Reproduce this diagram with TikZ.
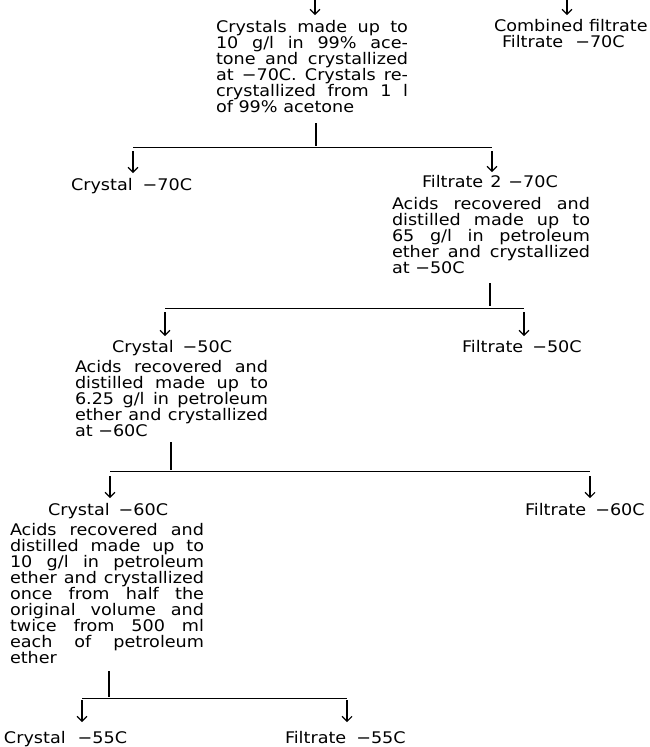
\documentclass[tikz,border=0pt]{standalone}
\usepackage{fontspec}
\setmainfont[FakeStretch=1.1]{DejaVu Sans}
\usetikzlibrary{arrows.meta}
\newcommand\lfont{\fontsize{16}{16.1}\selectfont}
\newcommand\flowtext[2]{\vtop{\hsize=#1\relax\parindent=0pt\tolerance=10000\hbadness=10000\lineskiplimit=-100pt\noindent\ignorespaces #2\par}}
\begin{document}
\begin{tikzpicture}[x=1pt,y=-1pt,
  lab/.style={inner sep=0pt, outer sep=0pt, anchor=base west, font=\lfont},
  hline/.style={line width=0.9pt},
  vline/.style={line width=1.1pt},
  arr/.style={line width=1.1pt, -{Straight Barb[length=5pt,width=10pt]}}]
\fill[white] (0,0) rectangle (649,747);
\useasboundingbox (0,0) rectangle (649,747);

% ---- level 0
\coordinate (in1) at (315,0);
\coordinate (in2) at (567,0);
\node[lab] (b1) at (216,32) {\flowtext{192pt}{Crystals made up to\break 10 g/l in 99\% ace-\break tone and crystallized\break at −70C. Crystals re-\break crystallized from 1 l\break of 99\% acetone}};
\node[lab] (comb1) at (494,31) {Combined filtrate};
\node[lab] (comb2) at (502,47) {Filtrate\hspace{12pt}−70C};
\draw[arr, shorten >=4.8pt] (in1) -- (in1 |- b1.north);
\draw[arr, shorten >=3.8pt] (in2) -- (in2 |- comb1.north);

% ---- split 1
\coordinate (v1) at (316,123);
\coordinate (j1) at (316,146);
\coordinate (h1l) at (133,147);
\coordinate (h1r) at (492,147);
\draw[vline] (v1) -- (j1);
\draw[hline] (h1l) -- (h1r);
\node[lab] (c70) at (71,190) {Crystal\hspace{10pt}−70C};
\node[lab] (f70) at (422,187) {Filtrate\hspace{7pt}2\hspace{7pt}−70C};
\draw[arr, shorten <=4pt, shorten >=4.8pt] (h1l) -- (h1l |- c70.north);
\draw[arr, shorten <=4pt, shorten >=2.8pt] (h1r) -- (h1r |- f70.north);

\node[lab] (b2) at (392,209) {\flowtext{198pt}{Acids recovered and\break distilled made up to\break 65 g/l in petroleum\break ether and crystallized\break at −50C}};

% ---- split 2
\coordinate (v2) at (490,283);
\coordinate (j2) at (490,306);
\coordinate (h2l) at (165,308);
\coordinate (h2r) at (524,308);
\draw[vline] (v2) -- (j2);
\draw[hline] (h2l) -- (h2r);
\node[lab] (c50) at (112,352) {Crystal\hspace{9pt}−50C};
\node[lab] (f50) at (462,352) {Filtrate\hspace{9pt}−50C};
\draw[arr, shorten <=4pt, shorten >=3.8pt] (h2l) -- (h2l |- c50.north);
\draw[arr, shorten <=4pt, shorten >=3.8pt] (h2r) -- (h2r |- f50.north);

\node[lab] (b3) at (75,372) {\flowtext{193pt}{Acids recovered and\break distilled made up to\break 6.25 g/l in petroleum\break ether and crystallized\break at −60C}};

% ---- split 3
\coordinate (v3) at (171,442);
\coordinate (j3) at (171,470);
\coordinate (h3l) at (110,471);
\coordinate (h3r) at (590,471);
\draw[vline] (v3) -- (j3);
\draw[hline] (h3l) -- (h3r);
\node[lab] (c60) at (48,515) {Crystal\hspace{9pt}−60C};
\node[lab] (f60) at (525,515) {Filtrate\hspace{9pt}−60C};
\draw[arr, shorten <=5pt, shorten >=4.8pt] (h3l) -- (h3l |- c60.north);
\draw[arr, shorten <=5pt, shorten >=4.8pt] (h3r) -- (h3r |- f60.north);

\node[lab] (b4) at (10,535) {\flowtext{194pt}{Acids recovered and\break distilled made up to\break 10 g/l in petroleum\break ether and crystallized\break once from half the\break original volume and\break twice from 500 ml\break each of petroleum\break ether}};

% ---- split 4
\coordinate (v4) at (109,671);
\coordinate (j4) at (109,697);
\coordinate (h4l) at (82,698);
\coordinate (h4r) at (347,698);
\draw[vline] (v4) -- (j4);
\draw[hline] (h4l) -- (h4r);
\node[lab] (c55) at (4,743) {Crystal\hspace{12pt}−55C};
\node[lab] (f55) at (285,743) {Filtrate\hspace{10pt}−55C};
\draw[arr, shorten <=2pt, shorten >=8.8pt] (h4l) -- (h4l |- c55.north);
\draw[arr, shorten <=2pt, shorten >=8.8pt] (h4r) -- (h4r |- f55.north);
\end{tikzpicture}
\end{document}
